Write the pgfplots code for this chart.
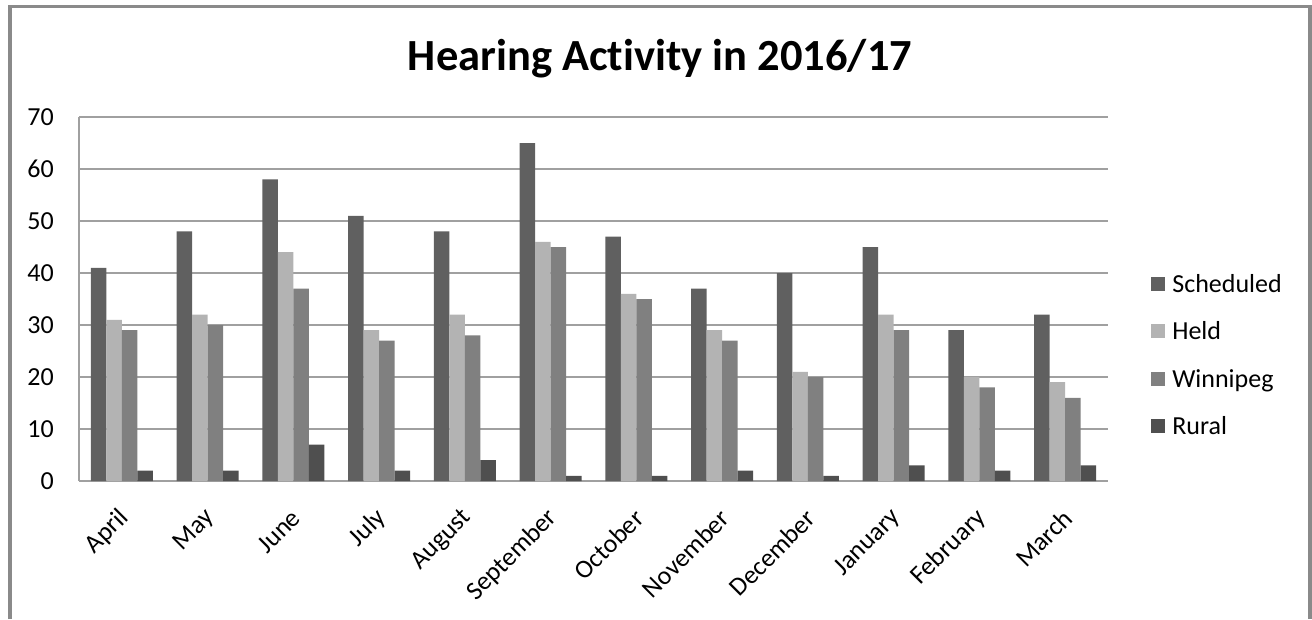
\documentclass[border=0pt]{standalone}
\usepackage{fontspec}
\setmainfont{Carlito}[Ligatures=NoCommon]
\usepackage{pgfplots}
\pgfplotsset{compat=1.18}

\definecolor{schedcol}{HTML}{606060}
\definecolor{heldcol}{HTML}{B3B3B3}
\definecolor{winncol}{HTML}{808080}
\definecolor{ruralcol}{HTML}{4F4F4F}
\definecolor{gridcol}{HTML}{A0A0A0}
\definecolor{framecol}{HTML}{8A8A8A}

\begin{document}
\begin{tikzpicture}
\begin{axis}[
    at={(79pt,-481pt)}, anchor=south west,
    scale only axis,
    width=1029pt, height=364pt,
    ybar=0pt, bar width=15.5pt,
    xmin=-0.5, xmax=11.5,
    ymin=0, ymax=70,
    xtick={0,...,11},
    xticklabels={April,May,June,July,August,September,October,November,December,January,February,March},
    ytick={0,10,...,70},
    axis x line*=bottom, axis y line*=left,
    axis line style={gridcol, line width=2pt, -},
    ymajorgrids, grid style={gridcol, line width=2pt},
    major tick length=0pt,
    /pgf/number format/assume math mode=true,
    yticklabel style={font=\fontsize{26}{31}\selectfont, anchor=east, inner sep=0pt, xshift=-25pt},
    xticklabel style={font=\fontsize{26}{31}\selectfont, inner sep=0pt, yshift=-33pt, xshift=3pt, rotate=45, anchor=east},
    title={Hearing Activity in 2016/17},
    title style={at={(axis description cs:0.5646,1.1126)}, anchor=base, font=\fontsize{44.5}{52}\selectfont\bfseries},
    legend image code/.code={\fill[#1] (0pt,-7pt) rectangle (14pt,7pt);},
    legend style={at={(axis description cs:1.039,0.346)}, anchor=west, draw=none, fill=none,
        font=\fontsize{26}{31}\selectfont, row sep=20pt, nodes={inner sep=4pt},
        /tikz/every odd column/.append style={column sep=3pt}},
    legend cell align=left,
]
% Scheduled
\addplot[fill=schedcol, draw=none] coordinates {
  (0,41) (1,48) (2,58) (3,51) (4,48) (5,65) (6,47) (7,37) (8,40) (9,45) (10,29) (11,32)
};
\addlegendentry{Scheduled}
% Held
\addplot[fill=heldcol, draw=none] coordinates {
  (0,31) (1,32) (2,44) (3,29) (4,32) (5,46) (6,36) (7,29) (8,21) (9,32) (10,20) (11,19)
};
\addlegendentry{Held}
% Winnipeg
\addplot[fill=winncol, draw=none] coordinates {
  (0,29) (1,30) (2,37) (3,27) (4,28) (5,45) (6,35) (7,27) (8,20) (9,29) (10,18) (11,16)
};
\addlegendentry{Winnipeg}
% Rural
\addplot[fill=ruralcol, draw=none] coordinates {
  (0,2) (1,2) (2,7) (3,2) (4,4) (5,1) (6,1) (7,2) (8,1) (9,3) (10,2) (11,3)
};
\addlegendentry{Rural}
\end{axis}
\draw[framecol, line width=3.5pt] (10pt,-619pt) -- (10pt,-6.5pt) -- (1309.75pt,-6.5pt) -- (1309.75pt,-619pt);
\pgfresetboundingbox
\useasboundingbox (0pt,0pt) rectangle (1312pt,-619pt);
\end{tikzpicture}
\end{document}
